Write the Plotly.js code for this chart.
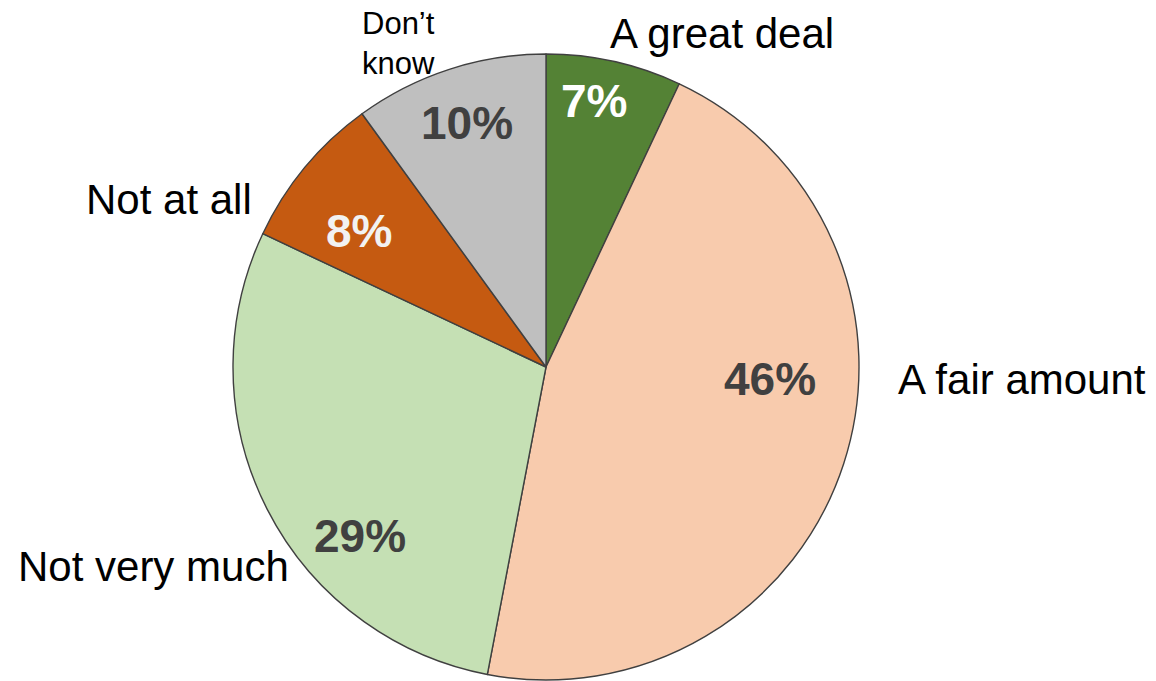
<!DOCTYPE html>
<html>
<head>
<meta charset="utf-8">
<script src="https://cdn.plot.ly/plotly-3.0.1.min.js"></script>
<style>html,body{margin:0;padding:0;background:#fff;}#chart{width:1156px;height:681px;}</style>
</head>
<body>
<div id="chart"></div>
<script>
const categories = ["A great deal", "A fair amount", "Not very much", "Not at all", "Don\u2019t know"];
const displayLabels = ["A great deal", "A fair amount", "Not very much", "Not at all", "Don\u2019t<br>know"];
const values = [7, 46, 29, 8, 10];
const sliceColors = ["#548235", "#F8CBAD", "#C5E0B4", "#C55A11", "#BFBFBF"];
const percentColors = ["#FFFFFF", "#404040", "#404040", "#F2F2F2", "#404040"];

// label placement (pixel positions in the 1156x681 page) and sizes
const labelPos = [[722, 33], [1022, 379], [153, 566], [169, 199], [398, 43]];
const labelSizes = [42, 42, 42, 42, 31];
const percentPos = [[594, 101], [770, 379], [360, 536], [359, 231], [467, 123]];
const percentSize = 46;

const W = 1156, H = 681;
const cx = 546, cy = 367, R = 313;
const FONT = "Liberation Sans, Arial, sans-serif";

const trace = {
  type: "pie",
  labels: categories,
  values: values,
  sort: false,
  direction: "clockwise",
  rotation: 0,
  marker: { colors: sliceColors, line: { color: "#404040", width: 1.4 } },
  textinfo: "none",
  showlegend: false,
  hoverinfo: "label+percent",
  domain: { x: [(cx - R) / W, (cx + R) / W], y: [(H - cy - R) / H, (H - cy + R) / H] }
};

const total = values.reduce((a, b) => a + b, 0);

const labelAnn = categories.map((c, i) => ({
  text: displayLabels[i],
  xref: "paper", yref: "paper",
  x: labelPos[i][0] / W, y: 1 - labelPos[i][1] / H,
  xanchor: "center", yanchor: "middle",
  showarrow: false,
  font: { family: FONT, size: labelSizes[i], color: "#000000" }
}));

const percentAnn = values.map((v, i) => ({
  text: Math.round(v / total * 100) + "%",
  xref: "paper", yref: "paper",
  x: percentPos[i][0] / W, y: 1 - percentPos[i][1] / H,
  xanchor: "center", yanchor: "middle",
  showarrow: false,
  font: { family: FONT, size: percentSize, weight: "bold", color: percentColors[i] }
}));

const layout = {
  width: W, height: H,
  margin: { l: 0, r: 0, t: 0, b: 0 },
  paper_bgcolor: "#ffffff",
  annotations: labelAnn.concat(percentAnn)
};

Plotly.newPlot("chart", [trace], layout, { displayModeBar: false, staticPlot: true });
</script>
</body>
</html>
